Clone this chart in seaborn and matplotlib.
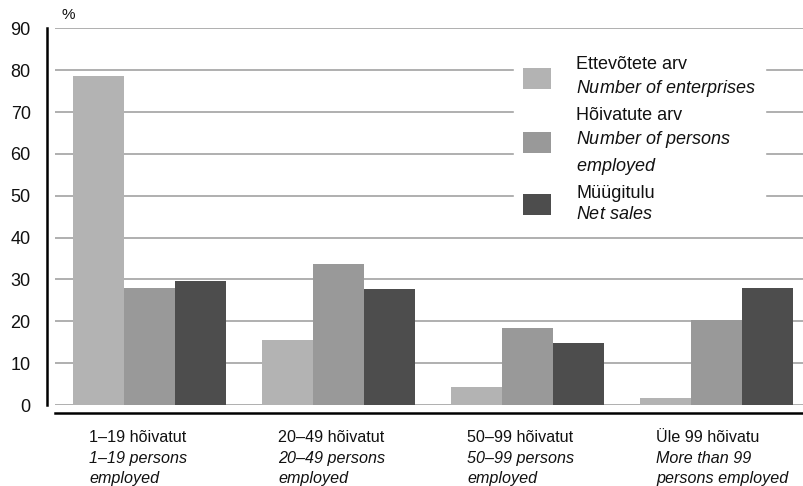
import numpy as np
import pandas as pd
import seaborn as sns
import matplotlib.pyplot as plt
from matplotlib.patches import Patch

# data
groups_et = ['1–19 hõivatut', '20–49 hõivatut', '50–99 hõivatut', 'Üle 99 hõivatu']
groups_en = ['1–19 persons\nemployed', '20–49 persons\nemployed',
             '50–99 persons\nemployed', 'More than 99\npersons employed']
series_et = ['Ettevõtete arv', 'Hõivatute arv', 'Müügitulu']
series_en = ['Number of enterprises', 'Number of persons\nemployed', 'Net sales']
enterprises = [78.6, 15.5, 4.3, 1.7]
employed = [28.0, 33.7, 18.4, 20.3]
net_sales = [29.6, 27.7, 14.8, 28.0]
colors = ['#b3b3b3', '#999999', '#4d4d4d']

df = pd.DataFrame({
    'group': groups_et * 3,
    'series': np.repeat(series_et, len(groups_et)),
    'value': enterprises + employed + net_sales,
})

sns.set_style('white')
plt.rcParams['font.family'] = ['Liberation Sans', 'DejaVu Sans']
plt.rcParams['mathtext.fontset'] = 'custom'
plt.rcParams['mathtext.rm'] = 'Liberation Sans'
plt.rcParams['mathtext.it'] = 'Liberation Sans:italic'


def it(s):
    # italic lines through mathtext so one legend label can mix styles
    return '\n'.join('$\\mathit{' + ln.replace(' ', '\\ ') + '}$' for ln in s.split('\n'))


fig = plt.figure(figsize=(8.04, 4.86), dpi=100)
ax = fig.add_axes([55 / 804, 81 / 486, 756 / 804, 376.7 / 486])

sns.barplot(data=df, x='group', y='value', hue='series', hue_order=series_et,
            palette=colors, saturation=1, width=0.81, linewidth=0,
            legend=False, ax=ax, zorder=3)

ax.set_xlim(-0.5, len(groups_et) - 0.5)
ax.set_ylim(0, 90)
ax.set_yticks(range(0, 91, 10))
ax.yaxis.grid(True, color='#9a9a9a', lw=1.1, zorder=0)
ax.set_axisbelow(True)
ax.set_xlabel('')
ax.set_ylabel('')

for s in ['top', 'right']:
    ax.spines[s].set_visible(False)
for s in ['left', 'bottom']:
    ax.spines[s].set_position(('outward', 6))
    ax.spines[s].set_linewidth(1.8)
    ax.spines[s].set_color('black')

ax.set_xticks(np.arange(-0.5, len(groups_et), 1.0))
ax.set_xticklabels([])
ax.tick_params(axis='x', direction='out', length=5, width=1.2, color='black')
ax.tick_params(axis='y', direction='out', length=3.5, width=1.2, color='black',
               pad=8, labelsize=13, labelcolor='#111111')

# category labels, left aligned inside each category
line_y = [-0.085, -0.1407, -0.1938]
for i, (et, en) in enumerate(zip(groups_et, groups_en)):
    lines = [(et, 'normal')] + [(ln, 'italic') for ln in en.split('\n')]
    for (txt, style), y in zip(lines, line_y):
        ax.text(i - 0.5 + 0.18, y, txt, transform=ax.get_xaxis_transform(),
                ha='left', va='center', fontsize=11.6, style=style, color='#111111')

ax.text(0.008, 1.035, '%', transform=ax.transAxes, ha='left', va='center',
        fontsize=11, color='#111111')

handles = [Patch(facecolor=c, edgecolor='none') for c in colors]
labels = [et + '\n' + it(en) for et, en in zip(series_et, series_en)]
leg = ax.legend(handles, labels, loc='upper left', bbox_to_anchor=(0.607, 0.95),
                borderaxespad=0, frameon=True, fancybox=False, edgecolor='white',
                facecolor='white', framealpha=1, fontsize=13, handlelength=1.55,
                handleheight=1.44, handletextpad=1.39, labelspacing=0.45, borderpad=0.5)
for t in leg.get_texts():
    t.set_linespacing(1.34)
    t.set_color('#111111')

fig.savefig('out.png', dpi=100)
